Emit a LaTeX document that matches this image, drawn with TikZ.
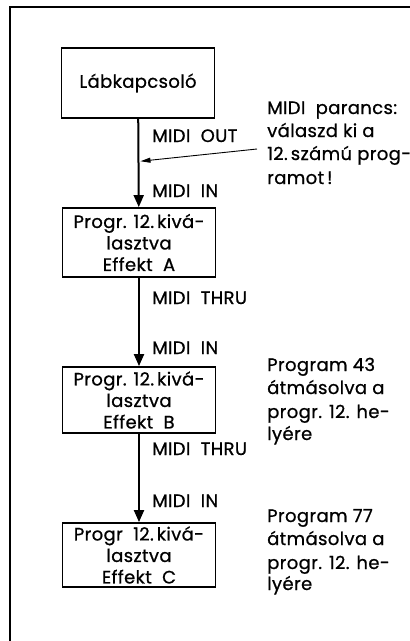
\documentclass[tikz,border=0pt]{standalone}
\usepackage{fontspec}
\setmainfont{Poppins}[LetterSpace=2,FakeBold=0.8]
\usetikzlibrary{arrows.meta,calc}
\begin{document}
\begin{tikzpicture}[x=1pt,y=-1pt,
  txt/.style={font=\fontsize{18}{21.5}\selectfont},
  box/.style={txt, draw, line width=1.8pt, minimum width=153pt, align=center, inner sep=0pt},
  lbl/.style={txt, anchor=base west, inner sep=0pt},
  flow/.style={line width=2pt, -{Triangle[width=10pt,length=12pt]}},
  hint/.style={line width=0.9pt, -{Triangle[width=5pt,length=10pt]}},
  frame/.style={line width=1.3pt}]
\useasboundingbox (0,0) rectangle (410,641);
\draw[frame] (410,7) -- (10,7) -- (10,641);

\node[box, minimum height=70pt] (b1) at (138,83) {Lábkapcsoló};
\node[box, minimum height=69pt] (b2) at (139,242.5) {Progr. 12.\,kivá-\\lasztva\\Effekt\ \ A};
\node[box, minimum height=66pt] (b3) at (139,400) {Progr. 12.\,kivá-\\lasztva\\Effekt\ \ B};
\node[box, minimum height=64pt] (b4) at (139,555) {Progr\ \ 12.\,kivá-\\lasztva\\Effekt\ \ C};

\draw[flow] (b1) -- (b2);
\draw[flow] (b2) -- (b3);
\draw[flow] (b3) -- (b4);

\node[lbl] (o1) at (152,142) {MIDI\ \ OUT};
\node[lbl] (i1) at (152,197) {MIDI\ \ IN};
\node[lbl] (t2) at (152,304) {MIDI\ \ THRU};
\node[lbl] (i2) at (152,354) {MIDI\ \ IN};
\node[lbl] (t3) at (152,455) {MIDI\ \ THRU};
\node[lbl] (i3) at (152,507) {MIDI\ \ IN};

\node[lbl] (n1a) at (267,114) {MIDI\ \ parancs:};
\node[lbl] (n1b) at (267,137) {válaszd ki a};
\node[lbl] (n1c) at (267,160) {12.\,számú prog-};
\node[lbl] (n1d) at (267,184) {ramot\,!};

\node[lbl] (n2a) at (267,371) {Program 43};
\node[lbl] (n2b) at (267,394) {átmásolva a};
\node[lbl] (n2c) at (267,418) {progr. 12. he-};
\node[lbl] (n2d) at (267,440) {lyére};

\node[lbl] (n3a) at (267,522) {Program 77};
\node[lbl] (n3b) at (267,545) {átmásolva a};
\node[lbl] (n3c) at (267,569) {progr. 12. he-};
\node[lbl] (n3d) at (267,590) {lyére};

\coordinate (src) at (257,149);
\coordinate (hit) at ($(b1.south)!0.48!(b2.north)+(2,0)$);
\draw[hint] (src) -- (hit);
\end{tikzpicture}
\end{document}
